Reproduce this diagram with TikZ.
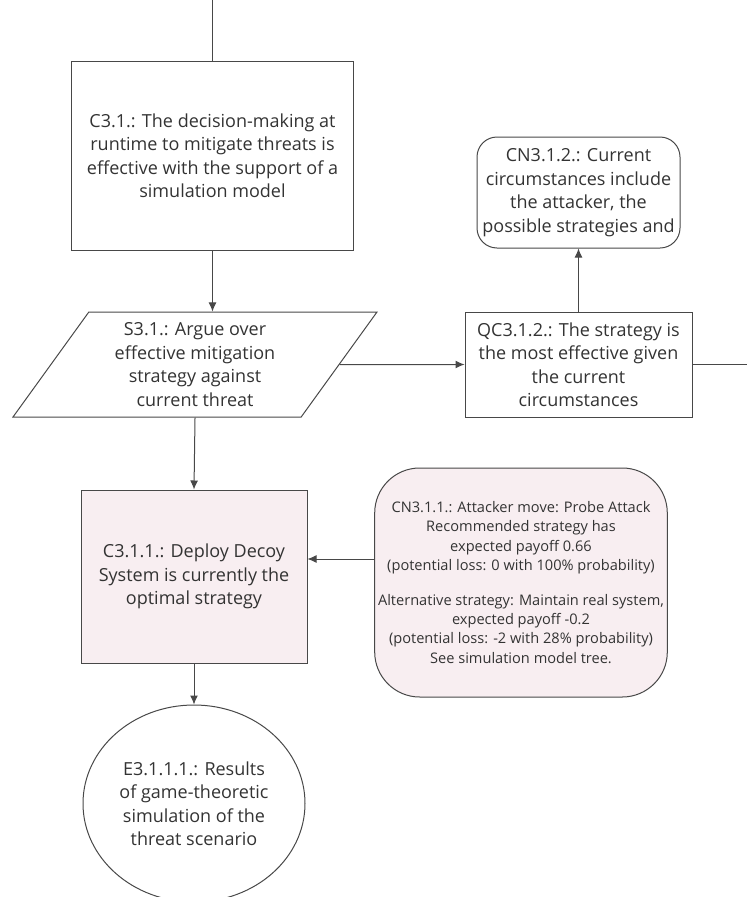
\documentclass[tikz,border=0pt]{standalone}
\usepackage{fontspec}
\setmainfont{Open Sans}
\usetikzlibrary{shapes.geometric, arrows.meta, positioning, calc}
\definecolor{linegray}{HTML}{484848}
\definecolor{textgray}{HTML}{333333}
\definecolor{softpink}{HTML}{F8EEF1}
\tikzset{
    goal_box/.style={rectangle, draw=linegray, line width=1pt, text=textgray, align=center, font=\fontsize{18}{23.5}\selectfont},
    strategy_box/.style={trapezium, trapezium left angle=50, trapezium right angle=130, trapezium stretches body, draw=linegray, line width=1pt, text=textgray, align=center, font=\fontsize{18}{23.5}\selectfont},
    context_box/.style={rectangle, rounded corners=20pt, draw=linegray, line width=1pt, text=textgray, align=center, font=\fontsize{18}{23.5}\selectfont},
    note_box/.style={rectangle, rounded corners=45pt, draw=linegray, line width=1pt, fill=softpink, text=textgray, align=center, font=\fontsize{14.6}{19.2}\selectfont},
    evidence_circle/.style={ellipse, draw=linegray, line width=1pt, text=textgray, align=center, font=\fontsize{18}{23.5}\selectfont},
    arrow/.style={-{Latex[length=9pt, width=8pt]}, draw=linegray, line width=1pt},
    plain_line/.style={draw=linegray, line width=1pt}
}
\begin{document}
\begin{tikzpicture}[x=1pt, y=-1pt]
            \useasboundingbox (0,0) rectangle (747,897);
            % Top claim and strategy
            \node (c31) [goal_box, minimum width=282pt, minimum height=189pt] at (212.5, 155.5) {C3.1.: The decision-making at\\runtime to mitigate threats is\\effective with the support of a\\simulation model};
            \node (s31) [strategy_box, minimum width=364pt, minimum height=105pt] at (195, 364.5) {S3.1.: Argue over\\effective mitigation\\strategy against\\current threat};

            % Context branch on the right
            \node (qc312) [goal_box, minimum width=227pt, minimum height=105pt] at (578.5, 364.5) {QC3.1.2.: The strategy is\\the most effective given\\the current\\circumstances};
            \node (cn312) [context_box, minimum width=203pt, minimum height=111pt] at (578.5, 192.5) {CN3.1.2.: Current\\circumstances include\\the attacker, the\\possible strategies and};

            % Sub-claim, its context and evidence
            \node (c311) [goal_box, fill=softpink, minimum width=226pt, minimum height=173pt] at (194, 576.5) {C3.1.1.: Deploy Decoy\\System is currently the\\optimal strategy};
            \node (cn311) [note_box, minimum width=292pt, minimum height=229pt] at (521, 582.5) {CN3.1.1.: Attacker move: Probe Attack\\Recommended strategy has\\expected payoff 0.66\\(potential loss: 0 with 100\% probability)\\[16pt]Alternative strategy: Maintain real system,\\expected payoff -0.2\\(potential loss: -2 with 28\% probability)\\See simulation model tree.};
            \node (e3111) [evidence_circle, minimum width=222pt, minimum height=197pt] at (194, 803.5) {E3.1.1.1.: Results\\of game-theoretic\\simulation of the\\threat scenario};

            % Loose ends
            \coordinate (topend) at (212.5, 0);
            \coordinate (rightend) at (747, 364.5);
            \coordinate (cnport) at ($(cn311.west)+(0,-23.5)$);

            % Connections
            \draw [plain_line] (topend) -- (c31.north);
            \draw [arrow] (c31.south) -- (c31.south |- s31.north);
            \draw [arrow] (s31.east) -- (qc312.west);
            \draw [arrow] (qc312) -- (cn312);
            \draw [plain_line] (qc312.east) -- (rightend);
            \draw [arrow] (s31.south) -- (c311.north);
            \draw [arrow] (cnport) -- (cnport -| c311.east);
            \draw [arrow] (c311) -- (e3111);
\end{tikzpicture}
\end{document}
